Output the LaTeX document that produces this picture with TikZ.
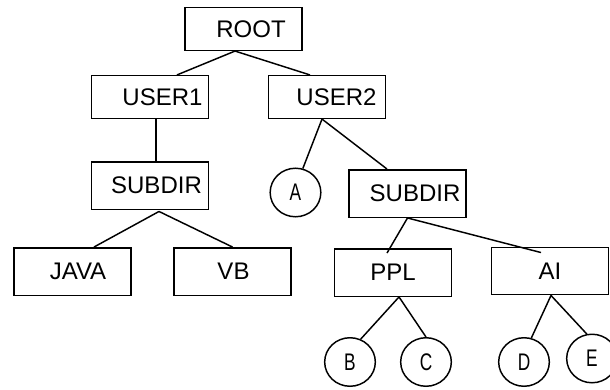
\documentclass[tikz,border=0pt]{standalone}
\usepackage{fontspec}
\usepackage{graphicx}
\setmainfont{Liberation Sans}
\usetikzlibrary{shapes.geometric,calc}
\tikzset{
  dirbox/.style={draw, rectangle, line width=1.1pt, inner sep=0pt,
    minimum width=87.5pt, minimum height=35.6pt, font=\fontsize{18pt}{20pt}\selectfont},
  lowbox/.style={dirbox, minimum height=32pt},
  filenode/.style={draw, ellipse, line width=1.1pt, inner sep=0pt,
    minimum width=38pt, minimum height=36.4pt, font=\fontsize{18pt}{20pt}\selectfont},
  edge/.style={line width=1.1pt}
}
\newcommand{\narrow}[1]{\scalebox{0.72}[1]{#1}}
\begin{document}
\begin{tikzpicture}[x=0.75pt,y=-0.75pt]
\useasboundingbox (0,0) rectangle (610,389);
\node[lowbox] (root) at (243.5,29) {\hspace{11.25pt}ROOT};
\node[lowbox] (user1) at (150,97) {\hspace{18.75pt}USER1};
\node[lowbox] (user2) at (327,97) {\hspace{14.25pt}USER2};
\node[dirbox] (sub1) at (150,185.5) {\hspace{9.75pt}SUBDIR};
\node[dirbox] (sub2) at (407.5,193.5) {\hspace{11.25pt}SUBDIR};
\node[dirbox] (java) at (72.5,271.5) {\hspace{8.25pt}JAVA};
\node[dirbox] (vb) at (232.5,271.5) {\hspace{1.5pt}VB};
\node[dirbox] (ppl) at (393,272.5) {PPL};
\node[dirbox] (ai) at (550,271) {AI};
\node[filenode] (a) at (295.5,192.5) {\narrow{A}};
\node[filenode] (b) at (350,362) {\narrow{B}};
\node[filenode] (c) at (426,362) {\narrow{C}};
\node[filenode] (d) at (524,362) {\narrow{D}};
\node[filenode] (e) at (592,358.5) {\narrow{E}};
\draw[edge] ($(root.south)+(-8.5,0)$) -- ($(user1.north)+(27,0)$);
\draw[edge] ($(root.south)+(-8.5,0)$) -- ($(user2.north)+(-17,0)$);
\draw[edge] ($(user1.south)+(6,0)$) -- ($(sub1.north)+(6,0)$);
\draw[edge] ($(user2.south)+(-5,0)$) -- (a.73);
\draw[edge] ($(user2.south)+(-5,0)$) -- ($(sub2.north)+(-20.5,0)$);
\draw[edge] ($(sub1.south)+(9,1.5)$) -- ($(java.north)+(21.5,0)$);
\draw[edge] ($(sub1.south)+(9,1.5)$) -- (vb.north);
\draw[edge] ($(sub2.south)+(0,0)$) -- ($(ppl.north)+(-6,5)$);
\draw[edge] ($(sub2.south)+(0,0)$) -- ($(ai.north)+(-9,6)$);
\draw[edge] ($(ppl.south)+(6,0)$) -- (b.65);
\draw[edge] ($(ppl.south)+(6,0)$) -- (c.north);
\draw[edge] ($(ai.south)+(1,0)$) -- (d.73);
\draw[edge] ($(ai.south)+(1,0)$) -- (e.102);
\end{tikzpicture}
\end{document}
